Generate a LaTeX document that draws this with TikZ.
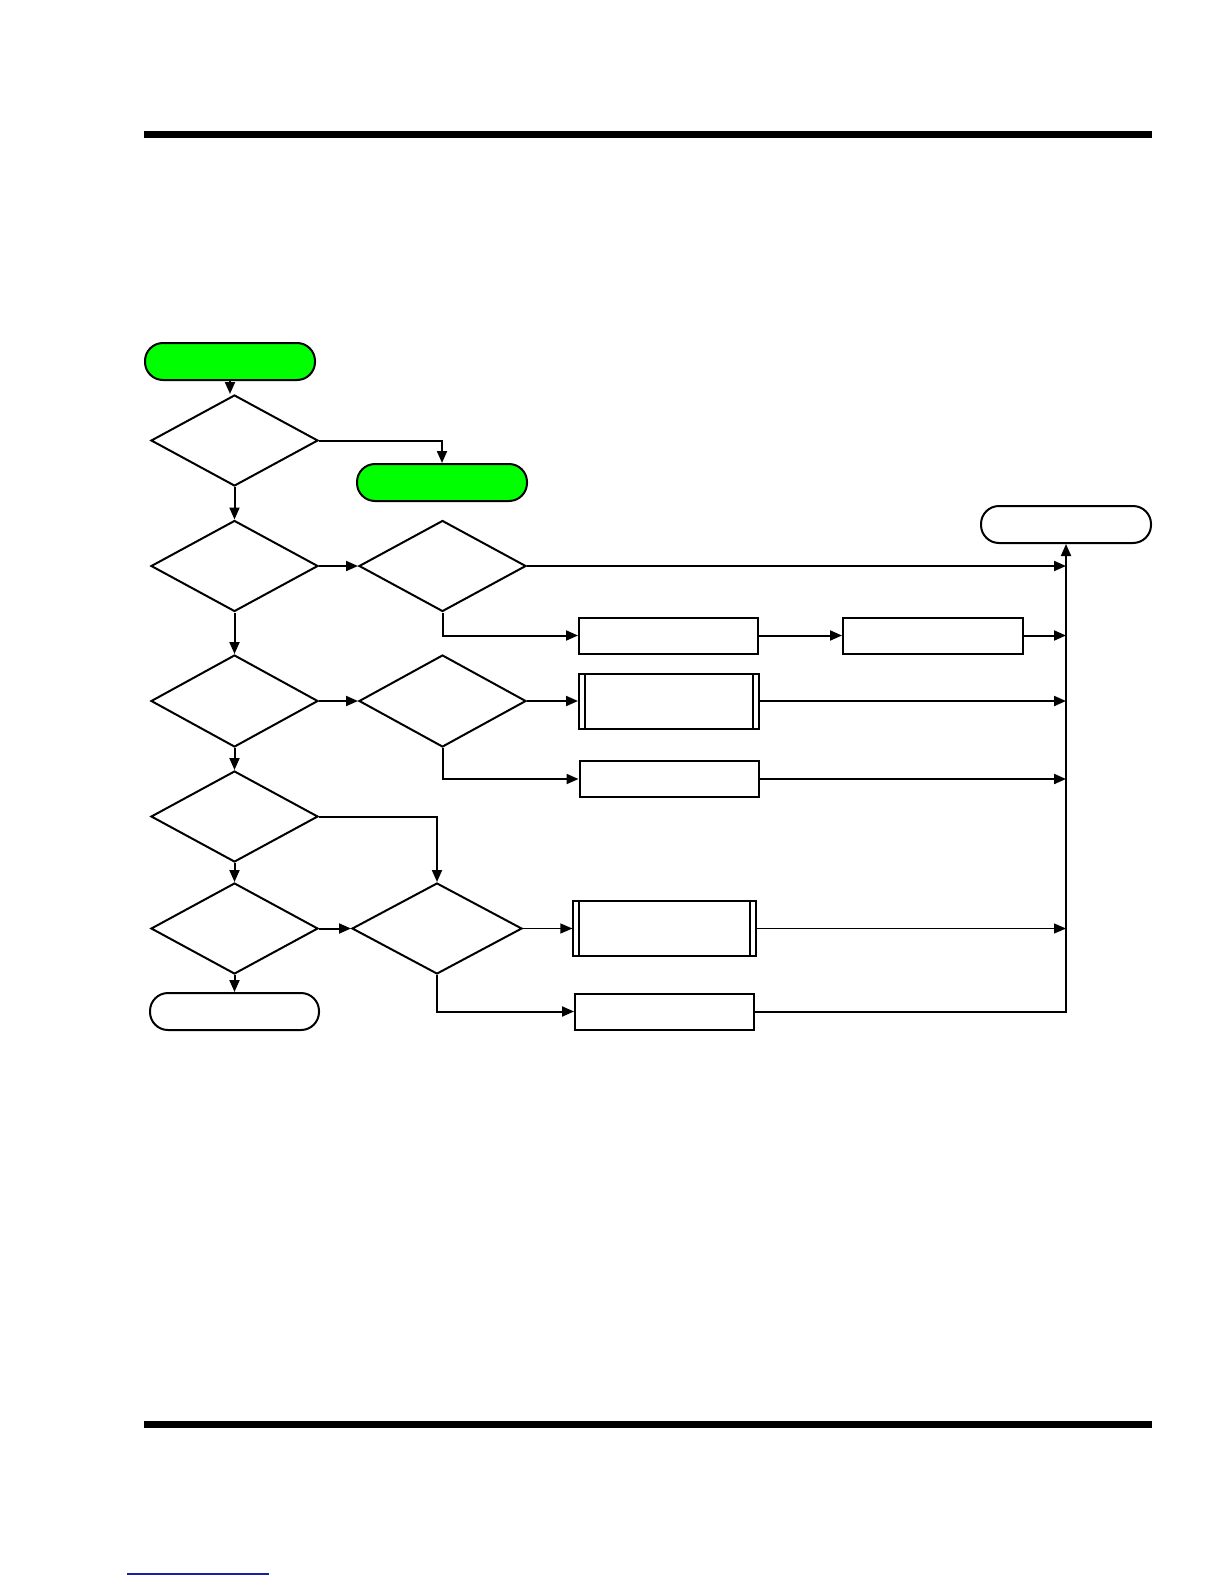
\documentclass[tikz,border=0pt]{standalone}
\usetikzlibrary{shapes.geometric,arrows.meta}
\definecolor{termgreen}{RGB}{0,255,0}
\definecolor{linkblue}{RGB}{30,30,160}
\tikzset{
  conn/.style={line width=1pt},
  arr/.style={conn,-{Triangle[length=6pt,width=5pt]}},
  thinarr/.style={line width=0.6pt,-{Triangle[length=6pt,width=5pt]}},
  decision/.style={diamond,draw,line width=1pt,inner sep=0pt,minimum width=83.5pt,minimum height=45.5pt},
  terminal/.style={rectangle,draw,line width=1pt,rounded corners=9pt,minimum width=85pt,minimum height=18.5pt,inner sep=0pt},
  startterm/.style={terminal,fill=termgreen},
  procbox/.style={rectangle,draw,line width=1pt,minimum width=89.5pt,minimum height=18pt,inner sep=0pt},
  subproc/.style={rectangle,draw,line width=#1,minimum width=90pt,minimum height=27.5pt,inner sep=0pt,
    path picture={
      \draw[line width=#1] ([xshift=3pt]path picture bounding box.north west) -- ([xshift=3pt]path picture bounding box.south west);
      \draw[line width=#1] ([xshift=-3pt]path picture bounding box.north east) -- ([xshift=-3pt]path picture bounding box.south east);
    }},
}
\begin{document}
\begin{tikzpicture}[x=0.5pt,y=-0.5pt]
\useasboundingbox (0,0) rectangle (1224,1584);
% page rules
\fill (144,131) rectangle (1152,138);
\fill (144,1421) rectangle (1152,1428);
\draw[linkblue,line width=0.8pt] (127,1574) -- (269,1574);

% nodes
\node[startterm] (start) at (230,361.5) {};
\node[decision] (d1) at (234.5,440.5) {};
\node[startterm] (g2) at (442,482.5) {};
\node[decision] (d2) at (234.5,566) {};
\node[decision] (d2b) at (442.5,566) {};
\node[terminal] (endR) at (1066,524.5) {};
\node[procbox] (boxA) at (668.5,635.5) {};
\node[procbox,minimum width=90pt] (boxD) at (933,635.5) {};
\node[decision,minimum height=46pt] (d3) at (234.5,701) {};
\node[decision,minimum height=46pt] (d3b) at (442.5,701) {};
\node[subproc=1pt] (boxB) at (669,701) {};
\node[procbox] (boxC) at (669,779) {};
\node[decision] (d4) at (234.5,816.5) {};
\node[decision] (d5) at (234.5,928.5) {};
\node[decision,minimum width=85pt] (d5b) at (437,928.5) {};
\node[terminal,minimum width=84.5pt] (endL) at (234.5,1011.5) {};
\node[subproc=0.6pt,minimum width=91.5pt] (boxE) at (664.5,928.5) {};
\node[procbox] (boxF) at (664.5,1011.5) {};
\coordinate (bus) at (1066,1011.5);

% main column
\draw[arr] (start.south) -- (start.south |- d1.north);
\draw[arr] (d1.south) -- (d2.north);
\draw[arr] (d2.south) -- (d3.north);
\draw[arr] (d3.south) -- (d4.north);
\draw[arr] (d4.south) -- (d5.north);
\draw[arr] (d5.south) -- (endL.north);

% branches
\draw[arr] (d1.east) -| (g2.north);
\draw[arr] (d2.east) -- (d2b.west);
\draw[arr] (d2b.east) -- (d2b.east -| bus);
\draw[arr] (d2b.south) |- (boxA.west);
\draw[arr] (boxA.east) -- (boxD.west);
\draw[arr] (boxD.east) -- (boxD.east -| bus);
\draw[arr] (d3.east) -- (d3b.west);
\draw[arr] (d3b.east) -- (d3b.east -| boxB.west);
\draw[arr] (boxB.east) -- (boxB.east -| bus);
\draw[arr] (d3b.south) |- (boxC.west);
\draw[arr] (boxC.east) -- (boxC.east -| bus);
\draw[arr] (d4.east) -| (d5b.north);
\draw[arr] (d5.east) -- (d5b.west);
\draw[thinarr] (d5b.east) -- (d5b.east -| boxE.west);
\draw[thinarr] (boxE.east) -- (boxE.east -| bus);
\draw[arr] (d5b.south) |- (boxF.west);
\draw[arr] (boxF.east) -- (bus) -- (endR.south);
\end{tikzpicture}
\end{document}
